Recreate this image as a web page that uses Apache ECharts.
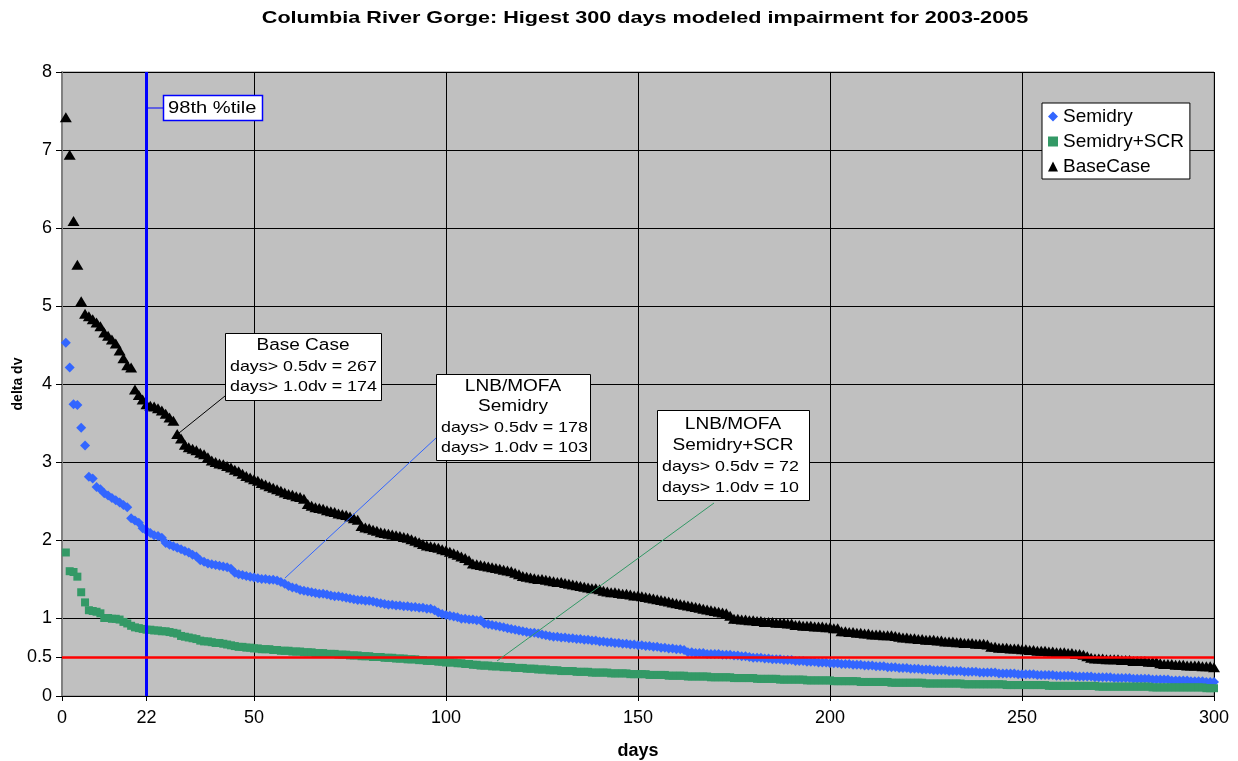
<!DOCTYPE html>
<html><head><meta charset="utf-8">
<script src="https://cdn.jsdelivr.net/npm/echarts@6/dist/echarts.min.js"></script>
<style>html,body{margin:0;padding:0;background:#fff}#c{width:1238px;height:761px}</style>
</head><body><div id="c"></div>
<script>
const chartTitle = "Columbia River Gorge: Higest 300 days modeled impairment for 2003-2005";
const xName = "days";
const yName = "delta dv";
const xTickLabels = [0, 22, 50, 100, 150, 200, 250, 300];
const yTickLabels = [0, 0.5, 1, 2, 3, 4, 5, 6, 7, 8];
const percentileDay = 22;
const percentileLabel = "98th %tile";
const thresholdDv = 0.5;
const seriesNames = ["Semidry", "Semidry+SCR", "BaseCase"];

const semidry = [
4.53,4.21,3.74,3.73,3.44,3.21,2.81,2.79,2.68,2.65,
2.60,2.57,2.54,2.51,2.48,2.45,2.42,2.28,2.25,2.22,
2.15,2.12,2.09,2.06,2.05,2.03,1.96,1.94,1.92,1.90,
1.88,1.86,1.84,1.81,1.79,1.74,1.72,1.70,1.69,1.68,
1.67,1.66,1.65,1.63,1.58,1.56,1.55,1.54,1.53,1.52,
1.51,1.50,1.50,1.49,1.49,1.48,1.46,1.44,1.41,1.39,
1.38,1.36,1.35,1.34,1.33,1.32,1.31,1.31,1.30,1.29,
1.28,1.28,1.27,1.26,1.25,1.24,1.23,1.23,1.22,1.22,
1.21,1.20,1.19,1.18,1.17,1.17,1.16,1.16,1.15,1.15,
1.14,1.14,1.13,1.13,1.12,1.12,1.10,1.07,1.05,1.04,
1.03,1.02,1.01,0.99,0.99,0.98,0.98,0.97,0.97,0.93,
0.92,0.91,0.90,0.89,0.88,0.87,0.86,0.85,0.84,0.83,
0.82,0.81,0.81,0.80,0.79,0.78,0.77,0.76,0.76,0.75,
0.75,0.74,0.74,0.73,0.73,0.72,0.72,0.71,0.71,0.70,
0.70,0.69,0.69,0.68,0.68,0.67,0.67,0.66,0.66,0.65,
0.65,0.64,0.64,0.63,0.63,0.62,0.62,0.61,0.61,0.60,
0.60,0.59,0.56,0.56,0.55,0.55,0.55,0.54,0.54,0.54,
0.54,0.53,0.53,0.53,0.52,0.52,0.51,0.51,0.50,0.49,
0.49,0.49,0.48,0.48,0.47,0.47,0.47,0.46,0.46,0.46,
0.45,0.45,0.45,0.44,0.44,0.44,0.43,0.43,0.43,0.42,
0.42,0.42,0.41,0.41,0.41,0.40,0.40,0.40,0.39,0.39,
0.39,0.38,0.38,0.38,0.37,0.37,0.37,0.36,0.36,0.36,
0.35,0.35,0.35,0.34,0.34,0.34,0.33,0.33,0.33,0.33,
0.32,0.32,0.32,0.32,0.31,0.31,0.31,0.31,0.30,0.30,
0.30,0.30,0.30,0.29,0.29,0.29,0.29,0.29,0.28,0.28,
0.28,0.28,0.28,0.27,0.27,0.27,0.27,0.27,0.26,0.26,
0.26,0.26,0.26,0.25,0.25,0.25,0.25,0.25,0.24,0.24,
0.24,0.24,0.24,0.23,0.23,0.23,0.23,0.23,0.22,0.22,
0.22,0.22,0.22,0.21,0.21,0.21,0.21,0.21,0.20,0.20,
0.20,0.20,0.20,0.19,0.19,0.19,0.19,0.18,0.18,0.18
];

const semidrySCR = [
1.84,1.60,1.59,1.53,1.33,1.20,1.10,1.09,1.08,1.06,
1.00,1.00,0.99,0.99,0.98,0.95,0.93,0.90,0.88,0.87,
0.86,0.85,0.85,0.84,0.84,0.83,0.83,0.82,0.81,0.80,
0.77,0.76,0.75,0.74,0.73,0.71,0.70,0.70,0.69,0.68,
0.68,0.67,0.66,0.65,0.64,0.63,0.63,0.62,0.62,0.61,
0.61,0.60,0.60,0.60,0.59,0.59,0.58,0.58,0.58,0.57,
0.57,0.57,0.56,0.56,0.56,0.55,0.55,0.55,0.54,0.54,
0.54,0.53,0.53,0.53,0.52,0.52,0.52,0.51,0.51,0.51,
0.50,0.50,0.50,0.49,0.49,0.49,0.48,0.48,0.48,0.47,
0.47,0.47,0.46,0.46,0.45,0.45,0.45,0.44,0.44,0.43,
0.43,0.43,0.42,0.42,0.41,0.41,0.40,0.40,0.39,0.39,
0.39,0.38,0.38,0.38,0.37,0.37,0.37,0.36,0.36,0.36,
0.35,0.35,0.35,0.34,0.34,0.34,0.33,0.33,0.33,0.32,
0.32,0.32,0.32,0.31,0.31,0.31,0.31,0.30,0.30,0.30,
0.30,0.30,0.29,0.29,0.29,0.29,0.29,0.28,0.28,0.28,
0.28,0.28,0.27,0.27,0.27,0.27,0.27,0.26,0.26,0.26,
0.26,0.26,0.25,0.25,0.25,0.25,0.25,0.25,0.24,0.24,
0.24,0.24,0.24,0.24,0.23,0.23,0.23,0.23,0.23,0.23,
0.22,0.22,0.22,0.22,0.22,0.22,0.21,0.21,0.21,0.21,
0.21,0.21,0.21,0.20,0.20,0.20,0.20,0.20,0.20,0.20,
0.19,0.19,0.19,0.19,0.19,0.19,0.19,0.18,0.18,0.18,
0.18,0.18,0.18,0.18,0.18,0.17,0.17,0.17,0.17,0.17,
0.17,0.17,0.17,0.17,0.16,0.16,0.16,0.16,0.16,0.16,
0.16,0.16,0.16,0.16,0.15,0.15,0.15,0.15,0.15,0.15,
0.15,0.15,0.15,0.15,0.15,0.14,0.14,0.14,0.14,0.14,
0.14,0.14,0.14,0.14,0.14,0.14,0.13,0.13,0.13,0.13,
0.13,0.13,0.13,0.13,0.13,0.13,0.13,0.13,0.13,0.12,
0.12,0.12,0.12,0.12,0.12,0.12,0.12,0.12,0.12,0.12,
0.12,0.12,0.12,0.11,0.11,0.11,0.11,0.11,0.11,0.11,
0.11,0.11,0.11,0.11,0.11,0.11,0.11,0.10,0.10,0.10
];

const baseCase = [
7.42,6.94,6.09,5.53,5.06,4.90,4.87,4.83,4.79,4.74,
4.66,4.62,4.57,4.52,4.43,4.33,4.24,4.21,3.93,3.86,
3.80,3.74,3.72,3.71,3.69,3.66,3.62,3.57,3.53,3.36,
3.30,3.22,3.19,3.17,3.15,3.12,3.10,3.06,3.02,3.00,
2.98,2.97,2.95,2.93,2.90,2.88,2.85,2.82,2.80,2.78,
2.76,2.73,2.71,2.69,2.67,2.65,2.63,2.61,2.59,2.58,
2.56,2.55,2.53,2.46,2.44,2.42,2.41,2.40,2.38,2.37,
2.36,2.34,2.33,2.32,2.30,2.28,2.26,2.18,2.16,2.15,
2.13,2.12,2.10,2.09,2.08,2.07,2.06,2.05,2.04,2.03,
2.01,1.99,1.97,1.95,1.93,1.92,1.91,1.90,1.88,1.87,
1.85,1.83,1.81,1.79,1.77,1.74,1.70,1.69,1.68,1.67,
1.66,1.65,1.64,1.63,1.62,1.61,1.60,1.58,1.56,1.54,
1.53,1.52,1.51,1.50,1.50,1.49,1.48,1.47,1.46,1.46,
1.45,1.44,1.43,1.42,1.41,1.40,1.39,1.38,1.38,1.37,
1.35,1.34,1.33,1.33,1.32,1.31,1.31,1.30,1.29,1.29,
1.28,1.27,1.26,1.25,1.24,1.23,1.22,1.21,1.20,1.19,
1.18,1.17,1.16,1.15,1.14,1.13,1.12,1.11,1.10,1.09,
1.08,1.07,1.06,1.03,0.99,0.99,0.98,0.98,0.97,0.97,
0.96,0.96,0.95,0.95,0.95,0.94,0.94,0.94,0.93,0.93,
0.91,0.91,0.90,0.90,0.90,0.89,0.89,0.89,0.88,0.88,
0.87,0.87,0.83,0.83,0.82,0.82,0.81,0.81,0.80,0.80,
0.79,0.79,0.79,0.78,0.78,0.78,0.77,0.76,0.75,0.75,
0.74,0.74,0.73,0.73,0.72,0.72,0.72,0.71,0.71,0.70,
0.70,0.70,0.69,0.69,0.68,0.68,0.68,0.67,0.67,0.67,
0.66,0.63,0.63,0.62,0.62,0.62,0.61,0.61,0.61,0.60,
0.60,0.59,0.59,0.58,0.58,0.58,0.57,0.57,0.56,0.56,
0.56,0.55,0.55,0.54,0.54,0.53,0.51,0.49,0.48,0.48,
0.48,0.47,0.47,0.47,0.47,0.46,0.46,0.46,0.45,0.45,
0.45,0.45,0.44,0.44,0.44,0.42,0.41,0.41,0.41,0.40,
0.40,0.40,0.39,0.39,0.39,0.39,0.38,0.38,0.38,0.37
];

const callouts = [
  {title: ["Base Case"], lines: ["days> 0.5dv = 267", "days> 1.0dv = 174"]},
  {title: ["LNB/MOFA", "Semidry"], lines: ["days> 0.5dv = 178", "days> 1.0dv = 103"]},
  {title: ["LNB/MOFA", "Semidry+SCR"], lines: ["days> 0.5dv = 72", "days> 1.0dv = 10"]}
];

const FONT = "'Liberation Sans', Arial, sans-serif";
const STRETCH = 1.19;
const toXY = arr => arr.map((v, i) => [i + 1, v]);

const chart = echarts.init(document.getElementById('c'), null, {renderer: 'canvas'});

// callout box layout (pixel positions of annotation boxes)
const boxLayout = [
  {x: 225, y: 333, w: 156, h: 67, first: 13, pitch: 20.5, lineColor: '#000000', from: [225, 396], to: [179, 433]},
  {x: 436, y: 374, w: 154, h: 86, first: 12.5, pitch: 20.5, lineColor: '#3366FF', from: [436, 438], to: [285, 578]},
  {x: 657, y: 410, w: 152, h: 90, first: 15, pitch: 21, lineColor: '#339966', from: [714, 503], to: [497, 661]}
];

const graphics = [];
function stretchedText(str, x, y, align, size, weight, sx) {
  return {type: 'text', z: 22, x: x, y: y, scaleX: sx,
    style: {text: str, x: 0, y: 0, align: align, verticalAlign: 'middle',
      font: (weight ? weight + ' ' : '') + size + 'px ' + FONT, fill: '#000'}};
}
callouts.forEach((c, k) => {
  const b = boxLayout[k];
  graphics.push({type: 'line', z: 20, shape: {x1: b.from[0], y1: b.from[1], x2: b.to[0], y2: b.to[1]},
    style: {stroke: b.lineColor, lineWidth: 1}});
  graphics.push({type: 'rect', z: 21, shape: {x: b.x + 0.5, y: b.y + 0.5, width: b.w, height: b.h},
    style: {fill: '#ffffff', stroke: '#000000', lineWidth: 1}});
  let yy = b.y + b.first;
  c.title.forEach(t => {
    graphics.push(stretchedText(t, b.x + b.w / 2, yy, 'center', 16, '', STRETCH));
    yy += b.pitch;
  });
  c.lines.forEach(t => {
    graphics.push(stretchedText(t, b.x + 5, yy, 'left', 15, '', STRETCH));
    yy += b.pitch;
  });
});
// 98th percentile label box
graphics.push({type: 'line', z: 20, shape: {x1: 147, y1: 108, x2: 163, y2: 108}, style: {stroke: '#0000FF', lineWidth: 1}});
graphics.push({type: 'rect', z: 21, shape: {x: 163.5, y: 95.5, width: 99, height: 25},
  style: {fill: '#ffffff', stroke: '#0000FF', lineWidth: 1.5}});
graphics.push(stretchedText(percentileLabel, 168, 108.5, 'left', 16.5, '', 1.22));
// chart title
graphics.push(stretchedText(chartTitle, 645, 18, 'center', 16.5, 'bold', 1.31));

const option = {
  animation: false,
  backgroundColor: '#ffffff',
  legend: {
    orient: 'vertical', left: 1042, top: 103,
    backgroundColor: '#ffffff', borderColor: '#000000', borderWidth: 1,
    padding: [4, 6, 3, 6], itemGap: 6, itemWidth: 10, itemHeight: 10,
    textStyle: {fontFamily: FONT, fontSize: 19, color: '#000'},
    data: [
      {name: seriesNames[0], icon: 'diamond'},
      {name: seriesNames[1], icon: 'rect'},
      {name: seriesNames[2], icon: 'triangle'}
    ]
  },
  grid: {left: 62, right: 24, top: 72, bottom: 65, show: true, outerBoundsMode: 'none', containLabel: false,
    backgroundColor: '#C0C0C0', borderColor: '#808080', borderWidth: 1},
  xAxis: {
    type: 'value', min: 0, max: 300, interval: 50,
    name: xName, nameLocation: 'middle', nameGap: 46, nameMoveOverlap: false,
    nameTextStyle: {fontFamily: FONT, fontSize: 18, fontWeight: 'bold', color: '#000'},
    axisLine: {show: true, onZero: false, lineStyle: {color: '#000', width: 1}},
    axisTick: {show: true, length: 5, customValues: xTickLabels, lineStyle: {color: '#000'}},
    axisLabel: {customValues: xTickLabels, margin: 13, fontFamily: FONT, fontSize: 18, color: '#000'},
    splitLine: {show: true, lineStyle: {color: '#000', width: 1}}
  },
  yAxis: {
    type: 'value', min: 0, max: 8, interval: 1,
    name: yName, nameLocation: 'middle', nameGap: 37, nameRotate: 90, nameMoveOverlap: false,
    nameTextStyle: {fontFamily: FONT, fontSize: 14, fontWeight: 'bold', color: '#000'},
    axisLine: {show: true, onZero: false, lineStyle: {color: '#808080', width: 2}},
    axisTick: {show: true, length: 6, customValues: yTickLabels, lineStyle: {color: '#000'}},
    axisLabel: {customValues: yTickLabels, margin: 10, fontFamily: FONT, fontSize: 18, color: '#000'},
    splitLine: {show: true, lineStyle: {color: '#000', width: 1}}
  },
  series: [
    {name: seriesNames[0], type: 'scatter', data: toXY(semidry), symbol: 'diamond', symbolSize: [10, 10],
      itemStyle: {color: '#3366FF', opacity: 1}, z: 2},
    {name: seriesNames[1], type: 'scatter', data: toXY(semidrySCR), symbol: 'rect', symbolSize: [8, 8],
      itemStyle: {color: '#339966', opacity: 1}, z: 2},
    {name: seriesNames[2], type: 'scatter', data: toXY(baseCase), symbol: 'triangle', symbolSize: [12, 10],
      itemStyle: {color: '#000000', opacity: 1}, z: 3},
    {name: 'refs', type: 'line', data: [], z: 5, silent: true,
      markLine: {
        silent: true, symbol: ['none', 'none'], animation: false, label: {show: false},
        data: [
          {xAxis: percentileDay, lineStyle: {color: '#0000FF', width: 3, type: 'solid'}},
          {yAxis: thresholdDv, lineStyle: {color: '#FF0000', width: 2.5, type: 'solid'}}
        ]
      }}
  ],
  graphic: graphics
};
chart.setOption(option);
</script>
</body></html>
